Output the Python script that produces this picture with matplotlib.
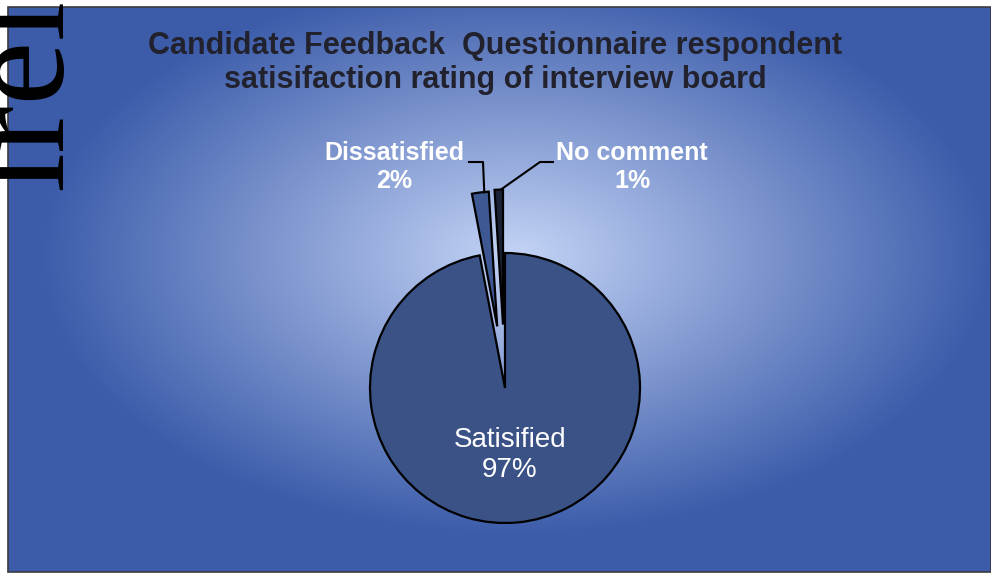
import numpy as np
import matplotlib.pyplot as plt
from matplotlib.patches import Rectangle

W, H = 991, 574

labels = ["No comment", "Dissatisfied", "Satisified"]
shares = [1, 2, 97]
pie_colors = ["#1c2236", "#3e5893", "#3b5287"]
title = "Candidate Feedback  Questionnaire respondent\nsatisifaction rating of interview board"

plt.rcParams['font.family'] = ['Liberation Sans', 'DejaVu Sans']

fig = plt.figure(figsize=(W / 100, H / 100), dpi=100, facecolor="white")
ax = fig.add_axes([0, 0, 1, 1])


def py(y):
    # pixel row (from top) -> data y
    return H - y


# blue panel with a soft elliptical glow in the middle
left, top, bottom = 8, 7, 572
gx, gy = np.meshgrid(np.arange(left, W), np.arange(top, bottom))
d = np.sqrt(((gx - 515) / 580.0) ** 2 + ((gy - 255) / 340.0) ** 2)
t = np.clip(d / 0.82, 0, 1)[..., None]
light = np.array([196, 212, 246]) / 255
dark = np.array([60, 92, 170]) / 255
img = light * (1 - t) + dark * t
ax.imshow(img, extent=(left, W, py(bottom), py(top)), origin="upper",
          interpolation="bilinear", zorder=0)
ax.add_patch(Rectangle((left, py(bottom)), W - left, bottom - top, fill=False,
                       edgecolor="#3a3a40", linewidth=1.2, zorder=1))

# explode is given in data units (pixels here), about half the radius
radius = 135
wedges, _ = ax.pie(shares, colors=pie_colors, startangle=90, counterclock=True,
                   explode=[0.47 * radius, 0.46 * radius, 0],
                   center=(505, py(388)), radius=radius,
                   wedgeprops=dict(edgecolor="black", linewidth=1.6))
for w in wedges:
    w.set_zorder(3)


def rim_point(w):
    mid = np.deg2rad((w.theta1 + w.theta2) / 2)
    cx, cy = w.center
    return cx + w.r * np.cos(mid), cy + w.r * np.sin(mid)


# leader lines for the two small exploded slices
nx, ny = rim_point(wedges[0])
dx, dy = rim_point(wedges[1])
ax.plot([469, 483, dx + 4], [py(162), py(162), dy], color="black", lw=1.5, zorder=4)
ax.plot([553, 540, nx + 2], [py(162), py(162), ny], color="black", lw=1.5, zorder=4)

ax.text(394, py(167), f"{labels[1]}\n{shares[1]}%", ha="center", va="center",
        color="white", fontsize=18, fontweight="bold", zorder=5)
ax.text(632, py(167), f"{labels[0]}\n{shares[0]}%", ha="center", va="center",
        color="white", fontsize=18, fontweight="bold", zorder=5)
ax.text(510, py(455), f"{labels[2]}\n{shares[2]}%", ha="center", va="center",
        color="white", fontsize=20, zorder=5)

ax.text(495, py(63), title, ha="center", va="center", color="#22222e",
        fontsize=22, fontweight="bold", linespacing=1.15, zorder=5)

# fragment of the page text running down the left margin
ax.text(61, py(190), "lrel", rotation=90, rotation_mode="anchor", ha="left",
        va="baseline", family="Liberation Serif", fontsize=104, color="black",
        zorder=6)

ax.set_aspect("auto")
ax.set_xlim(0, W)
ax.set_ylim(0, H)
ax.axis("off")

fig.savefig("out.png", dpi=100, facecolor="white")
